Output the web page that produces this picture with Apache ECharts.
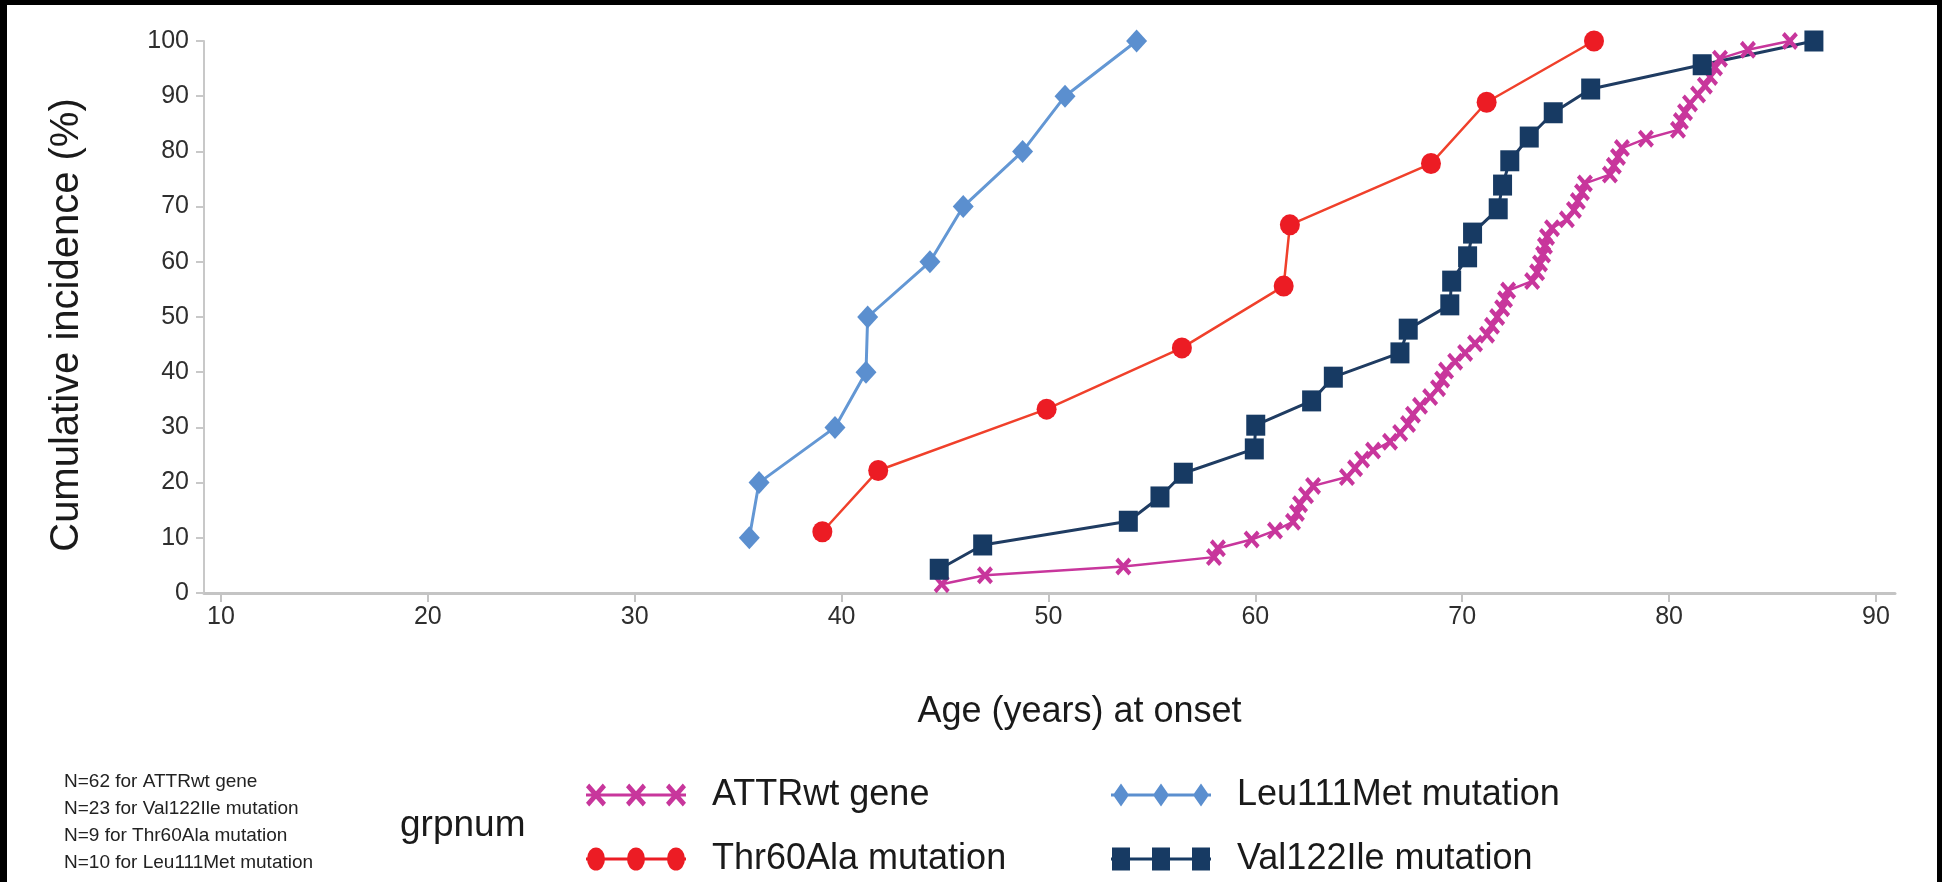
<!DOCTYPE html>
<html>
<head>
<meta charset="utf-8">
<script src="https://cdn.jsdelivr.net/npm/echarts@6/dist/echarts.min.js"></script>
<style>
  html, body { margin: 0; padding: 0; background: #000; }
  #chart { position: absolute; left: 7px; top: 5px; width: 1930px; height: 877px; background: #fff; }
</style>
</head>
<body>
<div id="chart"></div>
<script>
// age at onset (years) and cumulative incidence (%) per group
const ATTR_AGE = [44.84, 46.93, 53.62, 58.00, 58.19, 59.82, 60.95, 61.82, 62.01, 62.16,
  62.45, 62.79, 64.43, 64.82, 65.16, 65.69, 66.51, 67.00, 67.38, 67.62,
  67.96, 68.45, 68.83, 69.03, 69.22, 69.66, 70.14, 70.62, 71.20, 71.44,
  71.69, 71.93, 72.07, 72.22, 73.38, 73.62, 73.76, 73.91, 74.00, 74.10,
  74.34, 75.06, 75.40, 75.59, 75.79, 75.93, 77.14, 77.33, 77.53, 77.72,
  78.88, 80.43, 80.57, 80.77, 81.01, 81.40, 81.73, 81.98, 82.22, 82.46,
  83.81, 85.84];
const ATTR_PCT = [1.6, 3.2, 4.8, 6.5, 8.1, 9.7, 11.3, 12.9, 14.5, 16.1,
  17.7, 19.4, 21.0, 22.6, 24.2, 25.8, 27.4, 29.0, 30.6, 32.3,
  33.9, 35.5, 37.1, 38.7, 40.3, 41.9, 43.5, 45.2, 46.8, 48.4,
  50.0, 51.6, 53.2, 54.8, 56.5, 58.1, 59.7, 61.3, 62.9, 64.5,
  66.1, 67.7, 69.4, 71.0, 72.6, 74.2, 75.8, 77.4, 79.0, 80.6,
  82.3, 83.9, 85.5, 87.1, 88.7, 90.3, 91.9, 93.5, 95.2, 96.8,
  98.4, 100];

const LEU_AGE = [35.54, 36.01, 39.68, 41.18, 41.26, 44.27, 45.88, 48.75, 50.80, 54.26];
const LEU_PCT = [10, 20, 30, 40, 50, 60, 70, 80, 90, 100];

const THR_AGE = [39.07, 41.77, 49.91, 56.45, 61.37, 61.67, 68.49, 71.18, 76.37];
const THR_PCT = [11.1, 22.2, 33.3, 44.4, 55.6, 66.7, 77.8, 88.9, 100];

const VAL_AGE = [44.72, 46.82, 53.86, 55.39, 56.52, 59.95, 60.02, 62.72, 63.77, 66.99,
  67.39, 69.40, 69.49, 70.26, 70.50, 71.74, 71.95, 72.30, 73.24, 74.40,
  76.21, 81.60, 87.00];
const VAL_PCT = [4.3, 8.7, 13.0, 17.4, 21.7, 26.1, 30.4, 34.8, 39.1, 43.5,
  47.8, 52.2, 56.5, 60.9, 65.2, 69.6, 73.9, 78.3, 82.6, 87.0,
  91.3, 95.7, 100];

const X_TICKS = [10, 20, 30, 40, 50, 60, 70, 80, 90];
const NOTES = [
  "N=62 for ATTRwt gene",
  "N=23 for Val122Ile mutation",
  "N=9 for Thr60Ala mutation",
  "N=10 for Leu111Met mutation",
];

const FONT = "'Liberation Sans', Arial, sans-serif";
const C_ATTR = "#c8369c";
const C_LEU = "#5b8fcf";
const C_THR = "#ec1c24";
const C_VAL = "#173a63";

const pairs = (xs, ys) => xs.map((x, i) => [x, ys[i]]);

// marker shapes, used for the series and the legend icons
const xMark = (cx, cy, h, d) =>
  `M${cx - h} ${cy - h + d}L${cx - h + d} ${cy - h}L${cx} ${cy - d}L${cx + h - d} ${cy - h}` +
  `L${cx + h} ${cy - h + d}L${cx + d} ${cy}L${cx + h} ${cy + h - d}L${cx + h - d} ${cy + h}` +
  `L${cx} ${cy + d}L${cx - h + d} ${cy + h}L${cx - h} ${cy + h - d}L${cx - d} ${cy}Z`;
const diamond = (cx) => `M${cx} 0L${cx + 8} 10L${cx} 20L${cx - 8} 10Z`;
const ellipse = (cx) => `M${cx - 9} 10A9 10 0 0 1 ${cx + 9} 10A9 10 0 0 1 ${cx - 9} 10Z`;
const square = (cx) => `M${cx - 9} 0L${cx + 9} 0L${cx + 9} 20L${cx - 9} 20Z`;
const LINE = "M0 8.6L100 8.6L100 11.4L0 11.4Z";
const icon = (fn) => "path://" + LINE + [10, 50, 90].map(fn).join("");

const chart = echarts.init(document.getElementById("chart"), null, { renderer: "canvas" });

const legendBase = {
  orient: "vertical",
  top: 772,
  padding: 0,
  itemWidth: 100,
  itemHeight: 23,
  itemGap: 28,
  symbolKeepAspect: false,
  selectedMode: false,
  itemStyle: { borderWidth: 0 },
  textStyle: { fontSize: 36, color: "#1a1a1a", fontFamily: FONT, padding: [0, 0, 0, 21] },
};

chart.setOption({
  animation: false,
  backgroundColor: "#fff",
  title: [
    {
      text: NOTES.join("\n"),
      left: 57,
      top: 763,
      padding: 0,
      textStyle: { fontSize: 19, fontWeight: "normal", color: "#222", lineHeight: 27, fontFamily: FONT },
    },
    {
      text: "grpnum",
      left: 393,
      top: 802,
      padding: 0,
      textStyle: { fontSize: 37, fontWeight: "normal", color: "#1a1a1a", fontFamily: FONT },
    },
  ],
  legend: [
    Object.assign({}, legendBase, {
      left: 579,
      data: [
        { name: "ATTRwt gene", icon: icon((c) => xMark(c, 10, 10, 3.2)) },
        { name: "Thr60Ala mutation", icon: icon(ellipse) },
      ],
    }),
    Object.assign({}, legendBase, {
      left: 1104,
      data: [
        { name: "Leu111Met mutation", icon: icon(diamond) },
        { name: "Val122Ile mutation", icon: icon(square) },
      ],
    }),
  ],
  grid: { left: 197, top: 36, right: 42, bottom: 289 },
  xAxis: {
    type: "value",
    min: 9.18,
    max: 90.92,
    name: "Age (years) at onset",
    nameLocation: "middle",
    nameGap: 119,
    nameTextStyle: { fontSize: 36, color: "#1a1a1a", fontFamily: FONT, verticalAlign: "middle", padding: [0, 0, 0, 60] },
    axisLine: { lineStyle: { color: "#c4c4c4", width: 3 } },
    axisTick: { show: true, length: 9, customValues: X_TICKS, lineStyle: { color: "#c4c4c4", width: 2 } },
    axisLabel: { customValues: X_TICKS, fontSize: 25, color: "#2e2e2e", margin: 12, fontFamily: FONT },
    splitLine: { show: false },
  },
  yAxis: {
    type: "value",
    min: 0,
    max: 100,
    interval: 10,
    name: "Cumulative incidence (%)",
    nameLocation: "middle",
    nameRotate: 90,
    nameGap: 137,
    nameTextStyle: { fontSize: 40, color: "#1a1a1a", fontFamily: FONT, verticalAlign: "middle", padding: [0, 16, 0, 0] },
    axisLine: { show: true, lineStyle: { color: "#c8c8c8", width: 2 } },
    axisTick: { show: true, length: 8, lineStyle: { color: "#c8c8c8", width: 2 } },
    axisLabel: { fontSize: 25, color: "#2e2e2e", margin: 15, fontFamily: FONT },
    splitLine: { show: false },
  },
  series: [
    {
      name: "ATTRwt gene",
      type: "line",
      data: pairs(ATTR_AGE, ATTR_PCT),
      symbol: "path://" + xMark(0, 0, 8, 2.8),
      symbolSize: [16, 18],
      color: C_ATTR,
      itemStyle: { borderWidth: 0 },
      lineStyle: { width: 2.5, color: C_ATTR },
    },
    {
      name: "Leu111Met mutation",
      type: "line",
      data: pairs(LEU_AGE, LEU_PCT),
      symbol: "diamond",
      symbolSize: [21, 23],
      color: C_LEU,
      itemStyle: { borderWidth: 0 },
      lineStyle: { width: 3, color: "#6397d4" },
    },
    {
      name: "Thr60Ala mutation",
      type: "line",
      data: pairs(THR_AGE, THR_PCT),
      symbol: "path://" + ellipse(0),
      symbolSize: [20, 21],
      color: C_THR,
      itemStyle: { borderWidth: 0 },
      lineStyle: { width: 2.5, color: "#f0402b" },
    },
    {
      name: "Val122Ile mutation",
      type: "line",
      data: pairs(VAL_AGE, VAL_PCT),
      symbol: "rect",
      symbolSize: [19, 21],
      color: C_VAL,
      itemStyle: { borderWidth: 0 },
      lineStyle: { width: 3, color: "#1f3c62" },
    },
  ],
});
</script>
</body>
</html>
